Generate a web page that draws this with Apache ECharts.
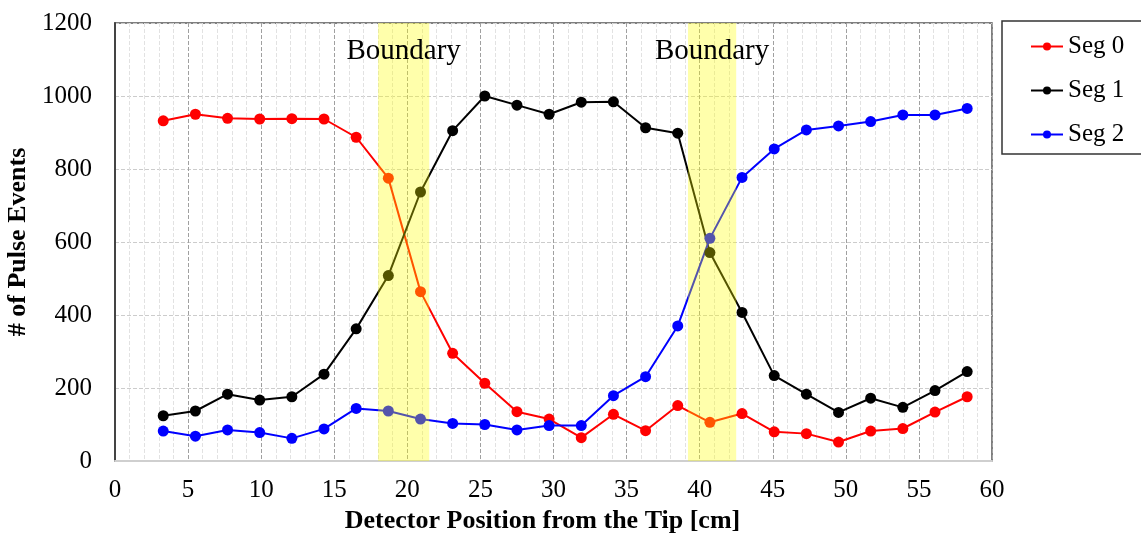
<!DOCTYPE html>
<html>
<head>
<meta charset="utf-8">
<script src="https://cdn.jsdelivr.net/npm/echarts@6/dist/echarts.min.js"></script>
<style>
  html, body { margin: 0; padding: 0; background: #fff; }
  #main { width: 1141px; height: 536px; }
</style>
</head>
<body>
<div id="main"></div>
<script>
// detector positions [cm]
var positions = [3.3, 5.5, 7.7, 9.9, 12.1, 14.3, 16.5, 18.7, 20.9, 23.1, 25.3, 27.5, 29.7,
                 31.9, 34.1, 36.3, 38.5, 40.7, 42.9, 45.1, 47.3, 49.5, 51.7, 53.9, 56.1, 58.3];
var seg0 = [932, 950, 939, 937, 938, 937, 887, 775, 464, 295, 213, 135, 115,
            64, 128, 83, 152, 106, 130, 80, 75, 52, 82, 89, 134, 176];
var seg1 = [124, 137, 183, 167, 176, 238, 362, 508, 737, 905, 1000, 975, 950,
            983, 984, 913, 898, 571, 407, 234, 183, 133, 172, 147, 193, 245];
var seg2 = [82, 68, 85, 78, 62, 88, 144, 137, 115, 103, 100, 85, 97,
            97, 179, 231, 370, 610, 777, 855, 907, 918, 930, 948, 948, 966];
var boundaries = [[18, 21.5], [39.2, 42.5]];
var seriesNames = ['Seg 0', 'Seg 1', 'Seg 2'];
var seriesColors = ['#ff0000', '#000000', '#0000ff'];

var FONT = '"Liberation Serif", "Times New Roman", serif';

function pairs(ys) {
    return positions.map(function (x, i) { return [x, ys[i]]; });
}

var chart = echarts.init(document.getElementById('main'));

var series = [seg0, seg1, seg2].map(function (ys, i) {
    return {
        name: seriesNames[i],
        type: 'line',
        data: pairs(ys),
        symbol: 'circle',
        symbolSize: 11,
        color: seriesColors[i],
        lineStyle: { width: 2 },
        z: 3
    };
});

// yellow boundary bands, drawn over the lines
series.push({
    type: 'line',
    data: [],
    z: 10,
    silent: true,
    markArea: {
        silent: true,
        z: 10,
        itemStyle: { color: 'rgba(255,255,0,0.33)' },
        label: {
            show: true,
            position: 'insideTop',
            distance: 14,
            color: '#000',
            fontFamily: FONT,
            fontSize: 29
        },
        data: boundaries.map(function (b) {
            return [{ name: 'Boundary', xAxis: b[0] }, { xAxis: b[1] }];
        })
    }
});

chart.setOption({
    animation: false,
    textStyle: { fontFamily: FONT },
    grid: {
        left: 115, right: 149, top: 23, bottom: 75,
        outerBoundsMode: 'none',
        containLabel: false,
        show: true,
        borderColor: '#555',
        borderWidth: 1.5
    },
    legend: {
        orient: 'vertical',
        left: 1025,
        top: 29,
        itemWidth: 32,
        itemHeight: 10,
        itemGap: 19,
        data: seriesNames,
        textStyle: { fontFamily: FONT, fontSize: 25, color: '#000' }
    },
    graphic: [{
        type: 'rect',
        shape: { x: 1002, y: 21, width: 200, height: 133 },
        style: { fill: 'none', stroke: '#333', lineWidth: 1.5 }
    }],
    xAxis: {
        type: 'value',
        min: 0,
        max: 60,
        interval: 5,
        name: 'Detector Position from the Tip [cm]',
        nameLocation: 'middle',
        nameGap: 46,
        nameTextStyle: {
            fontFamily: FONT, fontSize: 26, fontWeight: 'bold', color: '#000',
            padding: [0, 22, 0, 0]
        },
        axisLine: { show: true, onZero: false, lineStyle: { color: '#cfcfcf', width: 2 } },
        axisTick: { show: false },
        axisLabel: { margin: 17, fontFamily: FONT, fontSize: 25, color: '#000' },
        splitLine: { show: true, lineStyle: { type: 'dashed', color: '#a0a0a0', width: 1 } },
        minorTick: { show: false, splitNumber: 5 },
        minorSplitLine: { show: true, lineStyle: { type: 'dashed', color: '#e2e2e2', width: 1 } }
    },
    yAxis: {
        type: 'value',
        min: 0,
        max: 1200,
        interval: 200,
        name: '# of Pulse Events',
        nameLocation: 'middle',
        nameGap: 80,
        nameTextStyle: { fontFamily: FONT, fontSize: 26, fontWeight: 'bold', color: '#000' },
        axisLine: { show: true, lineStyle: { color: '#444', width: 2 } },
        axisTick: { show: false },
        axisLabel: {
            margin: 23, fontFamily: FONT, fontSize: 25, color: '#000',
            formatter: function (v) { return String(v); }
        },
        splitLine: { show: true, lineStyle: { type: 'dashed', color: '#cccccc', width: 1 } }
    },
    series: series
});
</script>
</body>
</html>
